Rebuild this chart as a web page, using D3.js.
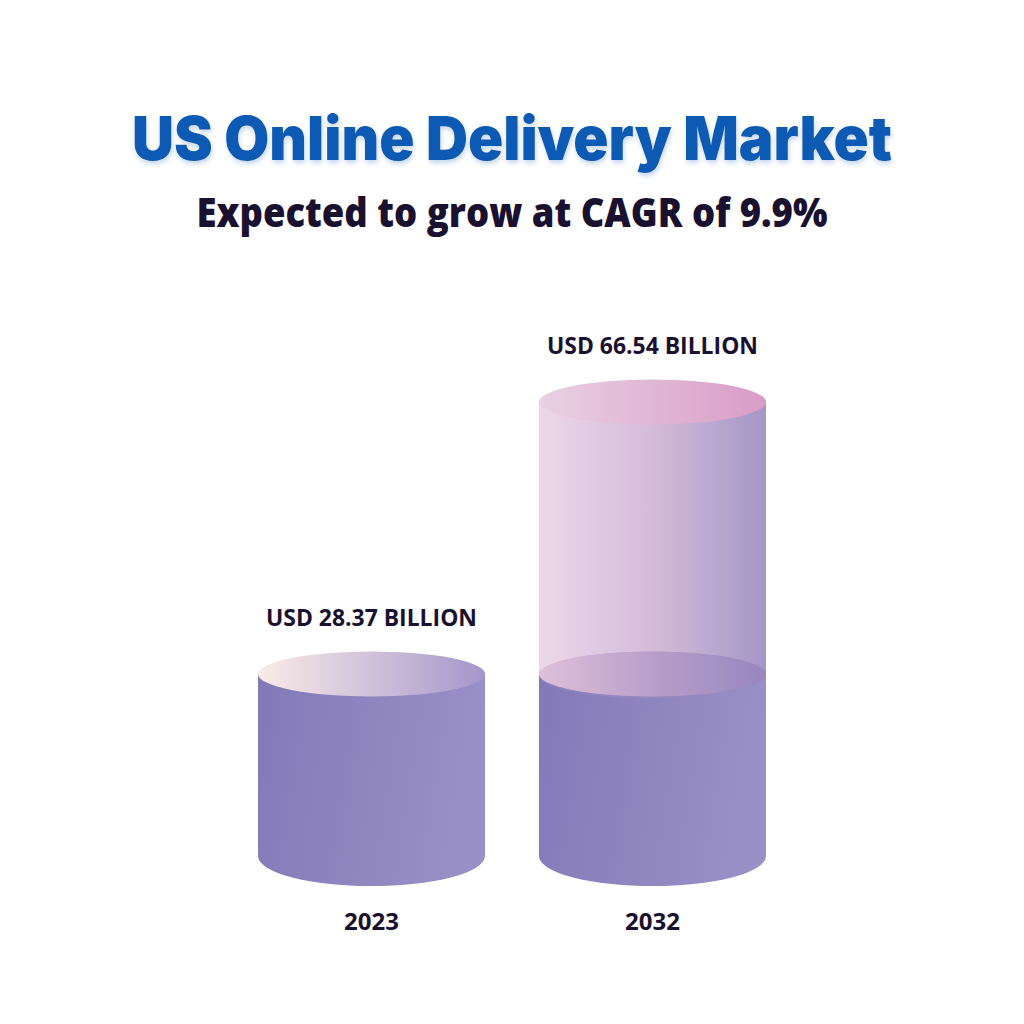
<!DOCTYPE html>
<html>
<head>
<meta charset="utf-8">
<script src="https://cdn.jsdelivr.net/npm/d3@7"></script>
<style>
  html, body { margin: 0; padding: 0; background: #ffffff; }
  svg { display: block; }
</style>
</head>
<body>
<script>
// ---- Data ----
const years = ["2023", "2032"];
const values = [28.37, 66.54];
const valueLabels = ["USD 28.37 BILLION", "USD 66.54 BILLION"];
const titleText = "US Online Delivery Market";
const subtitleText = "Expected to grow at CAGR of 9.9%";

// ---- Layout ----
const W = 1024, H = 1024;
const baseY = 856;
const svg = d3.select("body").append("svg").attr("width", W).attr("height", H);

const x = d3.scaleBand().domain(years).range([258, 766]).paddingInner(0.192).paddingOuter(0);
const y = d3.scaleLinear().domain([2.83, 66.54]).range([baseY, 402]);

const rx = x.bandwidth() / 2;
const ryTop = 22.5;
const ryBot = 30;

const defs = svg.append("defs");
function lin(id, stops, x1 = "0%", x2 = "100%", y1 = "0%", y2 = "0%") {
  const g = defs.append("linearGradient").attr("id", id)
    .attr("x1", x1).attr("x2", x2).attr("y1", y1).attr("y2", y2);
  stops.forEach(([o, c, op]) => g.append("stop").attr("offset", o).attr("stop-color", c).attr("stop-opacity", op == null ? 1 : op));
}
lin("bodySolid", [["0%", "#8379b7"], ["100%", "#9990c7"]], "0%", "100%", "0%", "15%");
lin("top2023", [["0%", "#f9ece6"], ["55%", "#cdbcd9"], ["100%", "#a396c9"]]);
lin("bodyGhost", [["0%", "#ecd8ea"], ["50%", "#d4bcd9"], ["100%", "#a596c7"]]);
lin("topGhost", [["0%", "#e9d0e4"], ["100%", "#d89dc6"]]);
lin("innerEll", [["0%", "#e0c0d9"], ["55%", "#b49cc8"], ["100%", "#9886c0"]]);

const f = defs.append("filter").attr("id", "tshadow").attr("x", "-5%").attr("y", "-20%").attr("width", "110%").attr("height", "160%");
f.append("feDropShadow").attr("dx", 1).attr("dy", 3).attr("stdDeviation", 2.5).attr("flood-color", "#7aa6d8").attr("flood-opacity", 0.45);

// ---- Titles ----
svg.append("text").attr("x", 512).attr("y", 160).attr("text-anchor", "middle")
  .attr("font-family", "Inter, 'Open Sans', sans-serif").attr("font-weight", 900)
  .attr("font-size", 61).attr("fill", "#0b5ab4")
  .attr("textLength", 760).attr("lengthAdjust", "spacingAndGlyphs")
  .attr("filter", "url(#tshadow)").text(titleText);

svg.append("text").attr("x", 512).attr("y", 227).attr("text-anchor", "middle")
  .attr("font-family", "'Open Sans', sans-serif").attr("font-weight", 800)
  .attr("font-size", 40).attr("fill", "#1a1030")
  .attr("textLength", 631).attr("lengthAdjust", "spacingAndGlyphs")
  .text(subtitleText);

// ---- Cylinders ----
function bodyPath(cx, yTop, yBase, ryB) {
  return `M${cx - rx},${yTop} L${cx - rx},${yBase} A${rx},${ryB} 0 0 0 ${cx + rx},${yBase} L${cx + rx},${yTop} Z`;
}

const data = years.map((yr, i) => ({ year: yr, value: values[i], label: valueLabels[i], solid: Math.min(values[i], values[0]) }));

const g = svg.selectAll("g.cyl").data(data).enter().append("g").attr("class", "cyl");

g.each(function (d) {
  const sel = d3.select(this);
  const cx = x(d.year) + rx;
  const ySolid = y(d.solid);
  const yVal = y(d.value);

  if (d.value > d.solid) {
    sel.append("path")
      .attr("d", `M${cx - rx},${yVal} L${cx - rx},${ySolid} L${cx + rx},${ySolid} L${cx + rx},${yVal} Z`)
      .attr("fill", "url(#bodyGhost)");
  }
  sel.append("path").attr("d", bodyPath(cx, ySolid, baseY, ryBot)).attr("fill", "url(#bodySolid)");

  if (d.value > d.solid) {
    sel.append("ellipse").attr("cx", cx).attr("cy", ySolid + 1).attr("rx", rx).attr("ry", ryTop + 1)
      .attr("fill", "#9a88c0").attr("opacity", 0.6);
    sel.append("ellipse").attr("cx", cx).attr("cy", ySolid).attr("rx", rx).attr("ry", ryTop)
      .attr("fill", "url(#innerEll)");
    sel.append("ellipse").attr("cx", cx).attr("cy", yVal).attr("rx", rx).attr("ry", ryTop)
      .attr("fill", "url(#topGhost)");
  } else {
    sel.append("ellipse").attr("cx", cx).attr("cy", yVal).attr("rx", rx).attr("ry", ryTop)
      .attr("fill", "url(#top2023)");
  }

  sel.append("text").attr("x", cx).attr("y", yVal - ryTop - 26).attr("text-anchor", "middle")
    .attr("font-family", "'Open Sans', sans-serif").attr("font-weight", 700)
    .attr("font-size", 24).attr("fill", "#1a1030")
    .attr("textLength", 211).attr("lengthAdjust", "spacingAndGlyphs")
    .text(d.label);

  sel.append("text").attr("x", cx).attr("y", 930).attr("text-anchor", "middle")
    .attr("font-family", "'Open Sans', sans-serif").attr("font-weight", 700)
    .attr("font-size", 24).attr("fill", "#1a1030")
    .text(d.year);
});
</script>
</body>
</html>
